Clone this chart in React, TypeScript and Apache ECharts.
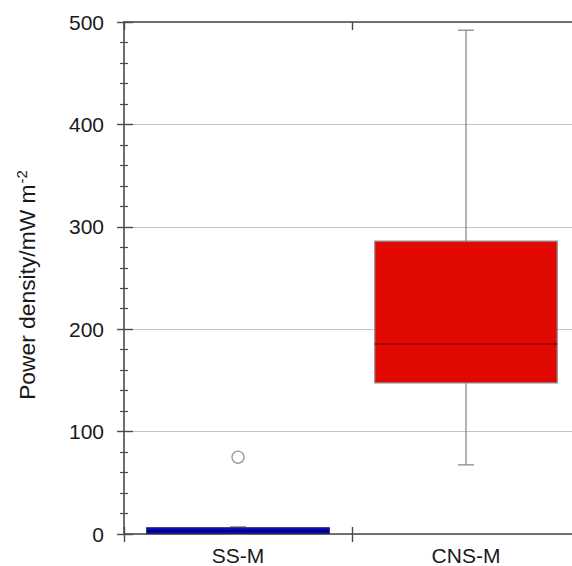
import React, { useEffect, useRef } from "react";
import * as echarts from "echarts";

const categories = ["SS-M", "CNS-M"];
const boxMin = [0.3, 67.5];
const boxQ1 = [0.5, 147.5];
const boxMedian = [3, 185.5];
const boxQ3 = [6, 286];
const boxMax = [7, 492];
const outliers: [number, number][] = [[0, 75]];
const yMin = 0;
const yMax = 500;
const yInterval = 100;

const boxFill = ["#0606cc", "#e00800"];
const boxStroke = ["#1c1c66", "#8a8a8a"];
const medianColor = ["#000070", "#990000"];

const FONT = "'Liberation Sans', Arial, sans-serif";
const AXIS_COLOR = "#4a4a4a";

export default function App() {
  const ref = useRef<HTMLDivElement>(null);
  useEffect(() => {
    const chart = echarts.init(ref.current!, undefined, { renderer: "svg" });
    const boxData = categories.map((_, i) => [i, boxMin[i], boxQ1[i], boxMedian[i], boxQ3[i], boxMax[i]]);
    const renderItem = (params: any, api: any) => {
      const idx = api.value(0);
      const band = api.size([1, 0])[0];
      const halfW = band * 0.4;
      const capHalf = 8;
      const pMin = api.coord([idx, api.value(1)]);
      const pQ1 = api.coord([idx, api.value(2)]);
      const pMed = api.coord([idx, api.value(3)]);
      const pQ3 = api.coord([idx, api.value(4)]);
      const pMax = api.coord([idx, api.value(5)]);
      const x = pMed[0];
      const wStyle = { stroke: "#8a8a8a", lineWidth: 1.3 };
      return {
        type: "group",
        children: [
          { type: "line", shape: { x1: x, y1: pQ3[1], x2: x, y2: pMax[1] }, style: wStyle },
          { type: "line", shape: { x1: x, y1: pQ1[1], x2: x, y2: pMin[1] }, style: wStyle },
          { type: "line", shape: { x1: x - capHalf, y1: pMax[1], x2: x + capHalf, y2: pMax[1] }, style: wStyle },
          { type: "line", shape: { x1: x - capHalf, y1: pMin[1], x2: x + capHalf, y2: pMin[1] }, style: wStyle },
          {
            type: "rect",
            shape: { x: x - halfW, y: pQ3[1], width: halfW * 2, height: pQ1[1] - pQ3[1] },
            style: { fill: boxFill[idx], stroke: boxStroke[idx], lineWidth: 1.2 },
          },
          {
            type: "line",
            shape: { x1: x - halfW, y1: pMed[1], x2: x + halfW, y2: pMed[1] },
            style: { stroke: medianColor[idx], lineWidth: 1.5 },
          },
        ],
      };
    };
    const labelStyle = { fontFamily: FONT, fontSize: 21, color: "#1a1a1a" };
    chart.setOption({
      animation: false,
      grid: { left: 124, top: 22, width: 456, height: 512, containLabel: false, outerBoundsMode: "none" },
      xAxis: [
        {
          type: "category",
          position: "bottom",
          data: categories,
          boundaryGap: true,
          axisLine: { show: true, lineStyle: { color: AXIS_COLOR, width: 1.6 } },
          axisTick: { show: true, length: 8, inside: false, lineStyle: { color: AXIS_COLOR, width: 1.4 } },
          axisLabel: { ...labelStyle, margin: 10, lineHeight: 22 },
          splitLine: { show: false },
        },
        {
          type: "category",
          position: "bottom",
          data: categories,
          boundaryGap: true,
          axisLine: { show: false },
          axisTick: { show: true, length: 7, inside: true, lineStyle: { color: AXIS_COLOR, width: 1.4 } },
          axisLabel: { show: false },
          splitLine: { show: false },
        },
        {
          type: "category",
          position: "top",
          data: categories,
          boundaryGap: true,
          axisLine: { show: true, lineStyle: { color: AXIS_COLOR, width: 1.6 } },
          axisTick: { show: true, length: 8, inside: true, lineStyle: { color: AXIS_COLOR, width: 1.4 } },
          axisLabel: { show: false },
          splitLine: { show: false },
        },
      ],
      yAxis: [
        {
          type: "value",
          position: "left",
          min: yMin,
          max: yMax,
          interval: yInterval,
          axisLine: { show: true, lineStyle: { color: AXIS_COLOR, width: 1.6 } },
          axisTick: { show: true, length: 7, inside: false, lineStyle: { color: AXIS_COLOR, width: 1.4 } },
          minorTick: { show: true, splitNumber: 5, length: 4, lineStyle: { color: AXIS_COLOR, width: 1.2 } },
          axisLabel: { ...labelStyle, margin: 20 },
          splitLine: { show: true, lineStyle: { color: "#c4c4c4", width: 1 } },
          name: "{a|Power density/mW m}{s|-2}",
          nameLocation: "middle",
          nameGap: 84,
          nameTextStyle: {
            padding: [0, 14, 0, 0],
            rich: {
              a: { fontFamily: FONT, fontSize: 22.8, color: "#1a1a1a" },
              s: { fontFamily: FONT, fontSize: 15, color: "#1a1a1a", padding: [0, 0, 11, 1] },
            },
          },
        },
        {
          type: "value",
          position: "left",
          min: yMin,
          max: yMax,
          interval: yInterval,
          axisLine: { show: false },
          axisTick: { show: true, length: 9, inside: true, lineStyle: { color: AXIS_COLOR, width: 1.4 } },
          minorTick: { show: true, splitNumber: 5, length: 4, lineStyle: { color: AXIS_COLOR, width: 1.2 } },
          axisLabel: { show: false },
          splitLine: { show: false },
        },
      ],
      series: [
        {
          type: "custom",
          xAxisIndex: 0,
          yAxisIndex: 0,
          renderItem,
          data: boxData,
          encode: { x: 0, y: [1, 2, 3, 4, 5] },
          z: 3,
        },
        {
          type: "scatter",
          xAxisIndex: 0,
          yAxisIndex: 0,
          data: outliers,
          symbol: "circle",
          symbolSize: 12,
          itemStyle: { color: "#ffffff", borderColor: "#808080", borderWidth: 1.3 },
          z: 4,
        },
      ],
    });
    return () => chart.dispose();
  }, []);
  return <div ref={ref} style={{ position: "absolute", left: 0, top: 0, width: 572, height: 566 }} />;
}
